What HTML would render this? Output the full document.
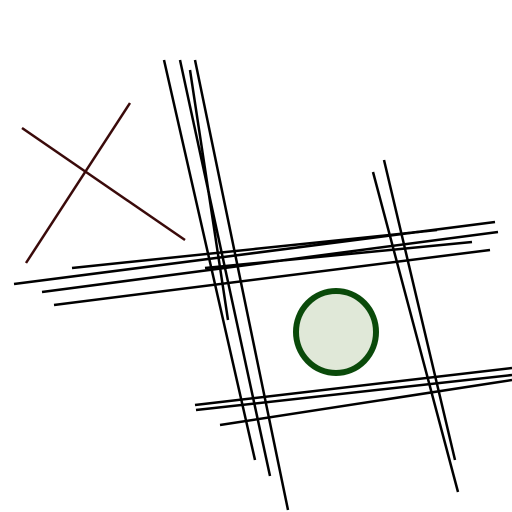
<!DOCTYPE html>
<html><head><meta charset="utf-8"><style>html,body{margin:0;padding:0;background:#fff}svg{display:block}</style></head>
<body>
<svg width="512" height="512" viewBox="0 0 512 512">
<g stroke="#000" stroke-width="2.5" fill="none">
<line x1="164" y1="60" x2="255" y2="460"/>
<line x1="180" y1="60" x2="270" y2="476"/>
<line x1="195" y1="60" x2="288" y2="510"/>
<line x1="190" y1="70" x2="228" y2="320"/>
<line x1="373" y1="172" x2="458" y2="492"/>
<line x1="384" y1="160" x2="455" y2="460"/>
<line x1="72" y1="268" x2="437" y2="230"/>
<line x1="14" y1="284" x2="495" y2="222"/>
<line x1="42" y1="292" x2="498" y2="232"/>
<line x1="54" y1="305" x2="490" y2="250"/>
<line x1="205" y1="268" x2="472" y2="242"/>
<line x1="195" y1="405" x2="512" y2="368"/>
<line x1="196" y1="410" x2="512" y2="375"/>
<line x1="220" y1="425" x2="512" y2="380"/>
</g>
<g stroke="#3a0a0a" stroke-width="2.5">
<line x1="22" y1="128" x2="185" y2="240"/>
<line x1="130" y1="103" x2="26" y2="263"/>
</g>
<ellipse cx="336" cy="332" rx="40" ry="41" fill="#e0e8d8" stroke="#0a4a0a" stroke-width="6"/>
</svg>
</body></html>
